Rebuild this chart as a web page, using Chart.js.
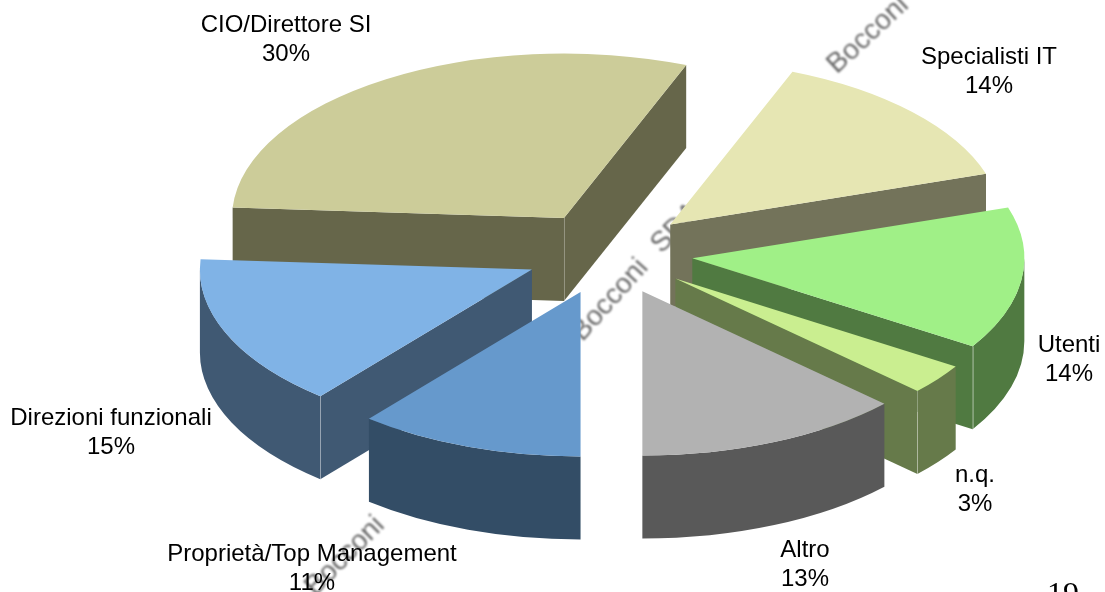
<!DOCTYPE html>
<html lang="it">
<head>
<meta charset="utf-8">
<title>Ruoli</title>
<script src="https://cdn.jsdelivr.net/npm/chart.js@4/dist/chart.umd.min.js"></script>
<style>
  html, body { margin: 0; padding: 0; background: #fff; overflow: hidden; }
  canvas { display: block; }
</style>
</head>
<body>
<canvas id="pie" width="1105" height="592"></canvas>
<script>
const categories = ["CIO/Direttore SI", "Specialisti IT", "Utenti", "n.q.", "Altro", "Proprietà/Top Management", "Direzioni funzionali"];
const shares = [30, 14, 14, 3, 13, 11, 15];

const topColors = ["#CCCC99", "#E6E6B3", "#A0F087", "#CAEE90", "#B2B2B2", "#6699CC", "#80B3E6"];
const wallColors = ["#66664A", "#73735A", "#507A41", "#667A4A", "#595959", "#334D66", "#405973"];

// label centres, first line
const labelSpots = [[286, 25], [989, 57], [1069, 345], [975, 475], [805, 550], [312, 554], [111, 418]];

// back to front
const paintOrder = [0, 1, 2, 6, 3, 4, 5];
// which corner of each slice shows the pale vertical edge
const ridges = ["apex", null, "end", "end", null, null, "start"];

const SQUASH = 0.495;
const DEPTH = 83;
const EXPLODE = 84;
const TWO_PI = Math.PI * 2;

const stamps = [
  ["Bocconi", 868, 35, 43],
  ["SDA", 676, 228, 46],
  ["Bocconi", 610, 300, 48],
  ["SDA", 425, 480, 45],
  ["Bocconi", 345, 556, 45]
];

// faint diagonal stamp behind the pie
const stampPlugin = {
  id: "stamp",
  beforeDraw(chart) {
    const ctx = chart.ctx;
    ctx.save();
    ctx.filter = "blur(0.8px)";
    ctx.fillStyle = "#6a6a6a";
    ctx.font = '28px "Liberation Sans"';
    ctx.textAlign = "center";
    ctx.textBaseline = "middle";
    stamps.forEach(([word, x, y, deg]) => {
      ctx.save();
      ctx.translate(x, y);
      ctx.rotate(-deg * Math.PI / 180);
      ctx.fillText(word, 0, 0);
      ctx.restore();
    });
    ctx.restore();
  }
};

// pseudo 3D: every arc gets pushed out, squashed, and swept down for its walls
const extrudePlugin = {
  id: "extrude",
  beforeDatasetDraw(chart, args) {
    const ctx = chart.ctx;
    const arcs = args.meta.data;

    paintOrder.forEach((i) => {
      const arc = arcs[i];
      const start = arc.startAngle;
      const end = arc.endAngle;
      const r = arc.outerRadius;
      const mid = (start + end) / 2;
      const apexX = arc.x + Math.cos(mid) * EXPLODE;
      const apexY = arc.y + Math.sin(mid) * EXPLODE * SQUASH;
      const rimX = (a) => apexX + Math.cos(a) * r;
      const rimY = (a) => apexY + Math.sin(a) * r * SQUASH;

      ctx.fillStyle = wallColors[i];
      // radial walls, only the ones facing the viewer
      const facing = [];
      if (Math.cos(start) < 0) facing.push(start);
      if (Math.cos(end) > 0) facing.push(end);
      facing.forEach((a) => {
        ctx.beginPath();
        ctx.moveTo(apexX, apexY);
        ctx.lineTo(rimX(a), rimY(a));
        ctx.lineTo(rimX(a), rimY(a) + DEPTH);
        ctx.lineTo(apexX, apexY + DEPTH);
        ctx.closePath();
        ctx.fill();
      });
      // curved outer wall, front half of the ellipse only
      [-TWO_PI, 0, TWO_PI].forEach((turn) => {
        const from = Math.max(start, turn);
        const to = Math.min(end, turn + Math.PI);
        if (to <= from) return;
        ctx.beginPath();
        ctx.ellipse(apexX, apexY, r, r * SQUASH, 0, from, to);
        ctx.ellipse(apexX, apexY + DEPTH, r, r * SQUASH, 0, to, from, true);
        ctx.closePath();
        ctx.fill();
      });

      if (ridges[i]) {
        const a = ridges[i] === "start" ? start : end;
        const x = ridges[i] === "apex" ? apexX : rimX(a);
        const y = ridges[i] === "apex" ? apexY : rimY(a);
        ctx.strokeStyle = "rgba(255,255,255,0.3)";
        ctx.lineWidth = 1;
        ctx.beginPath();
        ctx.moveTo(Math.round(x) + 0.5, y);
        ctx.lineTo(Math.round(x) + 0.5, y + DEPTH);
        ctx.stroke();
      }

      // top face is the arc element itself
      ctx.save();
      ctx.translate(arc.x, arc.y);
      ctx.scale(1, SQUASH);
      ctx.translate(-arc.x, -arc.y);
      ctx.translate(Math.cos(mid) * EXPLODE, Math.sin(mid) * EXPLODE);
      arc.draw(ctx);
      ctx.restore();
    });
    return false;
  }
};

const labelPlugin = {
  id: "sliceLabels",
  afterDraw(chart) {
    const ctx = chart.ctx;
    ctx.save();
    ctx.fillStyle = "#000";
    ctx.font = '24px "Liberation Sans"';
    ctx.textAlign = "center";
    ctx.textBaseline = "middle";
    categories.forEach((name, i) => {
      const [x, y] = labelSpots[i];
      ctx.fillText(name, x, y);
      ctx.fillText(shares[i] + "%", x, y + 29);
    });
    // page number, runs off the bottom edge
    ctx.font = '32px "Liberation Serif"';
    ctx.textBaseline = "alphabetic";
    ctx.fillText("19", 1063, 604);
    ctx.restore();
  }
};

new Chart(document.getElementById("pie"), {
  type: "pie",
  data: {
    labels: categories,
    datasets: [{
      data: shares,
      backgroundColor: topColors,
      borderWidth: 0,
      clip: false
    }]
  },
  options: {
    responsive: false,
    animation: false,
    rotation: 273.6,
    radius: 332,
    layout: { padding: { left: 113, right: 0, top: 0, bottom: 86 } },
    plugins: {
      legend: { display: false },
      tooltip: { enabled: false }
    }
  },
  plugins: [stampPlugin, extrudePlugin, labelPlugin]
});
</script>
</body>
</html>
